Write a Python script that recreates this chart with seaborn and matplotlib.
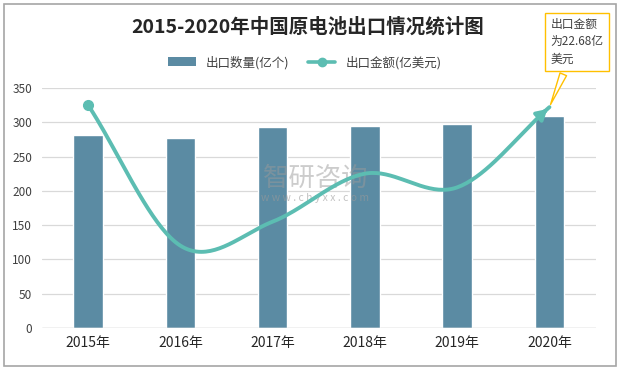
import numpy as np
import pandas as pd
import matplotlib
matplotlib.use("Agg")
import matplotlib.pyplot as plt
import seaborn as sns
from matplotlib.patches import Rectangle
from matplotlib.lines import Line2D
from matplotlib.patches import Patch

years = ["2015年", "2016年", "2017年", "2018年", "2019年", "2020年"]
export_qty = [281, 277, 293, 294, 298, 309]      # 出口数量(亿个)
export_value = [325, 120, 155, 225, 205, 322]    # 出口金额(亿美元), drawn on the same scale as the picture
y_ticks = [0, 50, 100, 150, 200, 250, 300, 350]

BAR_COLOR = "#5b8ba3"
LINE_COLOR = "#5cbdb2"


def smooth_curve(ys, n=40):
    # Catmull-Rom style smoothing, like the "smoothed line" option in office charts
    ys = np.asarray(ys, dtype=float)
    xs_out, ys_out = [], []
    m = len(ys)
    tang = np.zeros(m)
    for i in range(m):
        lo, hi = max(i - 1, 0), min(i + 1, m - 1)
        tang[i] = (ys[hi] - ys[lo]) / (hi - lo)
    for i in range(m - 1):
        t = np.linspace(0, 1, n, endpoint=(i == m - 2))
        h00 = 2 * t**3 - 3 * t**2 + 1
        h10 = t**3 - 2 * t**2 + t
        h01 = -2 * t**3 + 3 * t**2
        h11 = t**3 - t**2
        xs_out.extend(i + t)
        ys_out.extend(h00 * ys[i] + h10 * tang[i] + h01 * ys[i + 1] + h11 * tang[i + 1])
    return np.array(xs_out), np.array(ys_out)


sns.set_style("white")
plt.rcParams["font.family"] = ["Noto Sans CJK SC", "DejaVu Sans"]

fig = plt.figure(figsize=(6.22, 3.71), dpi=100)
ax = fig.add_axes([0.0675, 0.116, 0.89, 0.647])

df = pd.DataFrame({"year": years, "qty": export_qty})
sns.barplot(data=df, x="year", y="qty", color=BAR_COLOR, width=0.32, saturation=1, ax=ax)

cx, cy = smooth_curve(export_value)
ax.plot(cx, cy, color=LINE_COLOR, lw=2.8, solid_capstyle="round", zorder=4)
ax.plot([0], [export_value[0]], "o", color=LINE_COLOR, ms=7, zorder=5)
ax.annotate("", xy=(cx[-1], cy[-1]), xytext=(cx[-4], cy[-4]),
            arrowprops=dict(arrowstyle="-|>,head_length=0.6,head_width=0.35",
                            color=LINE_COLOR, lw=2.8), zorder=5)

ax.set_ylim(0, 350)
ax.set_xlim(-0.5, 5.5)
ax.set_yticks(y_ticks)
ax.yaxis.grid(True, color="#d9d9d9", lw=0.9)
ax.set_axisbelow(True)
for s in ax.spines.values():
    s.set_visible(False)
ax.set_xlabel("")
ax.set_ylabel("")
ax.tick_params(axis="y", labelsize=8.5, colors="#404040", length=0, pad=7)
ax.tick_params(axis="x", labelsize=10, colors="#262626", length=0, pad=6)
ax.axhline(0, color="#d0d0d0", lw=1)

# watermark
ax.text(0.494, 0.625, "智研咨询", transform=ax.transAxes, ha="center", va="center",
        fontsize=19, color="#9a9a9a", alpha=0.5, zorder=3)
ax.text(0.494, 0.54, "w w w . c h y x x . c o m", transform=ax.transAxes, ha="center",
        va="center", fontsize=7.5, color="#9a9a9a", alpha=0.6, zorder=3)

fig.text(0.495, 0.927, "2015-2020年中国原电池出口情况统计图", ha="center", va="center",
         fontsize=14, fontweight="bold", color="#262626")

handles = [Patch(facecolor=BAR_COLOR, edgecolor="none"),
           Line2D([0], [0], color=LINE_COLOR, lw=2.6, marker="o", ms=6)]
fig.legend(handles, ["出口数量(亿个)", "出口金额(亿美元)"], loc="center",
           bbox_to_anchor=(0.49, 0.832), ncol=2, frameon=False, fontsize=9,
           handlelength=2.2, columnspacing=1.5, labelcolor="#404040")

ax.annotate("出口金额\n为22.68亿\n美元", xy=(5, export_value[-1]), xycoords="data",
            xytext=(0.885, 0.887), textcoords="figure fraction",
            ha="left", va="center", fontsize=8.5, color="#404040", linespacing=1.45,
            bbox=dict(boxstyle="square,pad=0.45", fc="white", ec="#ffc000", lw=1),
            arrowprops=dict(arrowstyle="wedge,tail_width=0.6", fc="white", ec="#ffc000", lw=1),
            annotation_clip=False, zorder=6)

fig.patches.append(Rectangle((0.006, 0.013), 0.984, 0.975, transform=fig.transFigure,
                             fill=False, ec="#a6a6a6", lw=1.2))

fig.savefig("out.png", dpi=100)
